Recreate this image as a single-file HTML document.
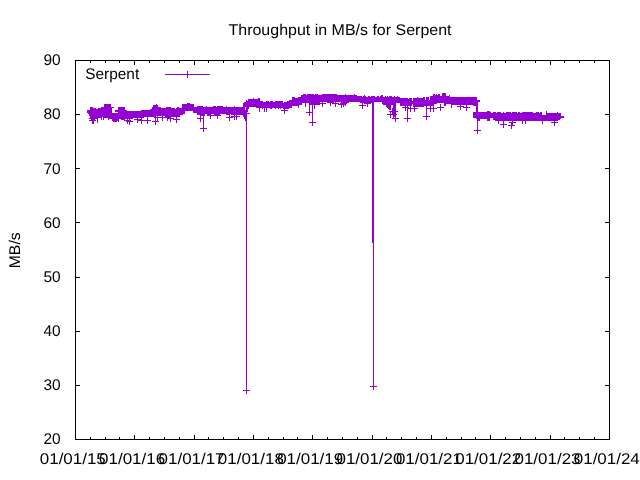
<!DOCTYPE html>
<html><head><meta charset="utf-8"><title>Throughput in MB/s for Serpent</title>
<style>
html,body{margin:0;padding:0;background:#fff;width:640px;height:480px;overflow:hidden}
svg{display:block;position:absolute;left:0;top:0;will-change:transform}
text{font-family:"Liberation Sans",sans-serif;font-size:15.5px;fill:#000;text-rendering:geometricPrecision}
</style></head><body>
<svg width="640" height="480" viewBox="0 0 640 480">
<rect width="640" height="480" fill="#fff"/>
<path shape-rendering="crispEdges" fill="#9400d3" d="M187 71h1v1h-1zM187 72h1v1h-1zM187 73h1v1h-1zM165 74h45v1h-45zM187 75h1v1h-1zM187 76h1v1h-1zM187 77h1v1h-1zM442 93h4v1h-4zM303 94h3v1h-3zM307 94h7v1h-7zM315 94h3v1h-3zM322 94h15v1h-15zM345 94h1v1h-1zM354 94h1v1h-1zM433 94h2v1h-2zM436 94h1v1h-1zM438 94h2v1h-2zM442 94h4v1h-4zM301 95h56v1h-56zM364 95h1v1h-1zM381 95h2v1h-2zM433 95h7v1h-7zM442 95h4v1h-4zM449 95h1v1h-1zM301 96h61v1h-61zM363 96h3v1h-3zM368 96h2v1h-2zM371 96h4v1h-4zM377 96h2v1h-2zM380 96h3v1h-3zM385 96h1v1h-1zM387 96h1v1h-1zM389 96h3v1h-3zM394 96h1v1h-1zM397 96h1v1h-1zM430 96h20v1h-20zM292 97h3v1h-3zM298 97h102v1h-102zM417 97h1v1h-1zM423 97h2v1h-2zM426 97h3v1h-3zM430 97h47v1h-47zM253 98h1v1h-1zM258 98h2v1h-2zM292 98h116v1h-116zM409 98h3v1h-3zM413 98h12v1h-12zM426 98h3v1h-3zM430 98h47v1h-47zM248 99h12v1h-12zM292 99h120v1h-120zM413 99h12v1h-12zM426 99h3v1h-3zM430 99h47v1h-47zM246 100h1v1h-1zM248 100h12v1h-12zM289 100h123v1h-123zM413 100h67v1h-67zM246 101h17v1h-17zM266 101h3v1h-3zM270 101h3v1h-3zM275 101h8v1h-8zM287 101h193v1h-193zM244 102h39v1h-39zM284 102h36v1h-36zM322 102h1v1h-1zM327 102h7v1h-7zM335 102h1v1h-1zM341 102h8v1h-8zM360 102h14v1h-14zM382 102h96v1h-96zM187 103h3v1h-3zM243 103h59v1h-59zM305 103h1v1h-1zM309 103h17v1h-17zM330 103h1v1h-1zM332 103h7v1h-7zM340 103h7v1h-7zM362 103h1v1h-1zM364 103h7v1h-7zM372 103h2v1h-2zM382 103h14v1h-14zM400 103h37v1h-37zM444 103h34v1h-34zM104 104h7v1h-7zM156 104h1v1h-1zM182 104h12v1h-12zM243 104h59v1h-59zM305 104h1v1h-1zM309 104h11v1h-11zM322 104h1v1h-1zM330 104h1v1h-1zM335 104h1v1h-1zM338 104h8v1h-8zM362 104h1v1h-1zM367 104h1v1h-1zM372 104h2v1h-2zM383 104h13v1h-13zM400 104h12v1h-12zM413 104h21v1h-21zM440 104h1v1h-1zM444 104h2v1h-2zM451 104h27v1h-27zM104 105h7v1h-7zM153 105h5v1h-5zM182 105h12v1h-12zM243 105h56v1h-56zM305 105h1v1h-1zM309 105h1v1h-1zM312 105h1v1h-1zM314 105h1v1h-1zM322 105h1v1h-1zM330 105h1v1h-1zM335 105h1v1h-1zM341 105h1v1h-1zM343 105h1v1h-1zM345 105h1v1h-1zM359 105h7v1h-7zM367 105h1v1h-1zM372 105h2v1h-2zM386 105h5v1h-5zM393 105h3v1h-3zM400 105h12v1h-12zM413 105h21v1h-21zM440 105h1v1h-1zM444 105h2v1h-2zM451 105h1v1h-1zM460 105h1v1h-1zM466 105h1v1h-1zM473 105h5v1h-5zM104 106h7v1h-7zM153 106h5v1h-5zM182 106h12v1h-12zM197 106h6v1h-6zM206 106h1v1h-1zM213 106h3v1h-3zM217 106h6v1h-6zM226 106h1v1h-1zM234 106h1v1h-1zM243 106h49v1h-49zM298 106h1v1h-1zM305 106h1v1h-1zM309 106h1v1h-1zM312 106h1v1h-1zM314 106h1v1h-1zM322 106h1v1h-1zM335 106h1v1h-1zM341 106h1v1h-1zM343 106h1v1h-1zM362 106h1v1h-1zM367 106h1v1h-1zM372 106h2v1h-2zM386 106h5v1h-5zM393 106h3v1h-3zM405 106h1v1h-1zM407 106h1v1h-1zM410 106h1v1h-1zM413 106h11v1h-11zM426 106h1v1h-1zM430 106h1v1h-1zM433 106h1v1h-1zM440 106h1v1h-1zM451 106h1v1h-1zM457 106h7v1h-7zM466 106h1v1h-1zM476 106h2v1h-2zM90 107h3v1h-3zM101 107h13v1h-13zM118 107h7v1h-7zM152 107h9v1h-9zM166 107h5v1h-5zM177 107h2v1h-2zM182 107h63v1h-63zM246 107h3v1h-3zM256 107h36v1h-36zM298 107h1v1h-1zM309 107h1v1h-1zM312 107h1v1h-1zM314 107h1v1h-1zM341 107h1v1h-1zM362 107h1v1h-1zM372 107h2v1h-2zM387 107h4v1h-4zM393 107h3v1h-3zM402 107h7v1h-7zM410 107h1v1h-1zM414 107h1v1h-1zM426 107h1v1h-1zM430 107h1v1h-1zM433 107h1v1h-1zM437 107h7v1h-7zM451 107h1v1h-1zM460 107h1v1h-1zM463 107h7v1h-7zM476 107h2v1h-2zM90 108h6v1h-6zM98 108h14v1h-14zM118 108h7v1h-7zM152 108h23v1h-23zM176 108h69v1h-69zM246 108h3v1h-3zM259 108h1v1h-1zM262 108h1v1h-1zM264 108h1v1h-1zM266 108h1v1h-1zM270 108h2v1h-2zM275 108h1v1h-1zM278 108h1v1h-1zM280 108h1v1h-1zM283 108h6v1h-6zM309 108h1v1h-1zM312 108h1v1h-1zM314 108h1v1h-1zM362 108h1v1h-1zM372 108h2v1h-2zM388 108h3v1h-3zM392 108h4v1h-4zM405 108h1v1h-1zM407 108h11v1h-11zM426 108h11v1h-11zM440 108h1v1h-1zM460 108h1v1h-1zM466 108h1v1h-1zM476 108h2v1h-2zM90 109h22v1h-22zM118 109h7v1h-7zM150 109h95v1h-95zM246 109h2v1h-2zM259 109h1v1h-1zM264 109h1v1h-1zM266 109h1v1h-1zM284 109h1v1h-1zM309 109h1v1h-1zM312 109h1v1h-1zM372 109h2v1h-2zM389 109h2v1h-2zM392 109h4v1h-4zM405 109h1v1h-1zM407 109h1v1h-1zM410 109h1v1h-1zM414 109h1v1h-1zM426 109h1v1h-1zM430 109h1v1h-1zM433 109h1v1h-1zM440 109h1v1h-1zM460 109h1v1h-1zM466 109h1v1h-1zM476 109h2v1h-2zM87 110h25v1h-25zM115 110h12v1h-12zM141 110h107v1h-107zM259 110h1v1h-1zM264 110h1v1h-1zM266 110h1v1h-1zM281 110h7v1h-7zM309 110h1v1h-1zM312 110h1v1h-1zM372 110h2v1h-2zM392 110h4v1h-4zM405 110h1v1h-1zM407 110h1v1h-1zM410 110h1v1h-1zM414 110h1v1h-1zM426 110h1v1h-1zM430 110h1v1h-1zM433 110h1v1h-1zM440 110h1v1h-1zM466 110h1v1h-1zM476 110h2v1h-2zM87 111h25v1h-25zM115 111h70v1h-70zM193 111h55v1h-55zM259 111h1v1h-1zM264 111h1v1h-1zM266 111h1v1h-1zM284 111h1v1h-1zM309 111h1v1h-1zM312 111h1v1h-1zM372 111h2v1h-2zM389 111h9v1h-9zM407 111h1v1h-1zM410 111h1v1h-1zM414 111h1v1h-1zM426 111h1v1h-1zM430 111h1v1h-1zM433 111h1v1h-1zM476 111h2v1h-2zM487 111h3v1h-3zM546 111h1v1h-1zM87 112h25v1h-25zM118 112h67v1h-67zM193 112h54v1h-54zM284 112h1v1h-1zM306 112h7v1h-7zM372 112h2v1h-2zM390 112h1v1h-1zM392 112h4v1h-4zM407 112h1v1h-1zM426 112h1v1h-1zM473 112h18v1h-18zM493 112h3v1h-3zM497 112h4v1h-4zM503 112h1v1h-1zM506 112h5v1h-5zM512 112h5v1h-5zM518 112h2v1h-2zM522 112h11v1h-11zM536 112h3v1h-3zM540 112h2v1h-2zM546 112h1v1h-1zM557 112h1v1h-1zM88 113h97v1h-97zM197 113h53v1h-53zM284 113h1v1h-1zM309 113h1v1h-1zM312 113h1v1h-1zM372 113h2v1h-2zM390 113h1v1h-1zM392 113h4v1h-4zM407 113h1v1h-1zM426 113h1v1h-1zM473 113h69v1h-69zM546 113h15v1h-15zM89 114h94v1h-94zM197 114h8v1h-8zM207 114h4v1h-4zM214 114h6v1h-6zM226 114h4v1h-4zM231 114h16v1h-16zM309 114h1v1h-1zM312 114h1v1h-1zM372 114h2v1h-2zM387 114h10v1h-10zM407 114h1v1h-1zM426 114h1v1h-1zM473 114h69v1h-69zM546 114h15v1h-15zM89 115h91v1h-91zM200 115h5v1h-5zM207 115h14v1h-14zM229 115h1v1h-1zM234 115h1v1h-1zM236 115h1v1h-1zM243 115h4v1h-4zM309 115h1v1h-1zM312 115h1v1h-1zM372 115h2v1h-2zM390 115h1v1h-1zM393 115h3v1h-3zM407 115h1v1h-1zM426 115h1v1h-1zM473 115h88v1h-88zM90 116h66v1h-66zM157 116h1v1h-1zM162 116h1v1h-1zM165 116h15v1h-15zM200 116h1v1h-1zM203 116h1v1h-1zM210 116h1v1h-1zM217 116h1v1h-1zM229 116h1v1h-1zM231 116h9v1h-9zM243 116h4v1h-4zM312 116h1v1h-1zM372 116h2v1h-2zM390 116h1v1h-1zM393 116h3v1h-3zM407 116h1v1h-1zM423 116h7v1h-7zM473 116h91v1h-91zM90 117h12v1h-12zM103 117h41v1h-41zM147 117h1v1h-1zM154 117h17v1h-17zM176 117h1v1h-1zM200 117h1v1h-1zM203 117h1v1h-1zM210 117h1v1h-1zM217 117h1v1h-1zM226 117h7v1h-7zM234 117h1v1h-1zM236 117h1v1h-1zM244 117h3v1h-3zM312 117h1v1h-1zM372 117h2v1h-2zM390 117h1v1h-1zM393 117h1v1h-1zM395 117h1v1h-1zM407 117h1v1h-1zM426 117h1v1h-1zM473 117h91v1h-91zM89 118h9v1h-9zM101 118h1v1h-1zM103 118h1v1h-1zM108 118h25v1h-25zM137 118h1v1h-1zM141 118h1v1h-1zM147 118h1v1h-1zM155 118h1v1h-1zM157 118h1v1h-1zM162 118h1v1h-1zM167 118h7v1h-7zM176 118h1v1h-1zM197 118h7v1h-7zM210 118h1v1h-1zM217 118h1v1h-1zM229 118h1v1h-1zM234 118h1v1h-1zM236 118h1v1h-1zM244 118h3v1h-3zM312 118h1v1h-1zM372 118h2v1h-2zM392 118h7v1h-7zM404 118h7v1h-7zM426 118h1v1h-1zM476 118h14v1h-14zM493 118h68v1h-68zM91 119h4v1h-4zM97 119h1v1h-1zM101 119h1v1h-1zM103 119h1v1h-1zM108 119h1v1h-1zM112 119h7v1h-7zM121 119h4v1h-4zM127 119h1v1h-1zM129 119h1v1h-1zM134 119h8v1h-8zM147 119h1v1h-1zM155 119h1v1h-1zM157 119h1v1h-1zM162 119h1v1h-1zM167 119h1v1h-1zM170 119h1v1h-1zM173 119h7v1h-7zM200 119h1v1h-1zM203 119h1v1h-1zM229 119h1v1h-1zM234 119h1v1h-1zM236 119h1v1h-1zM245 119h2v1h-2zM312 119h1v1h-1zM372 119h2v1h-2zM395 119h1v1h-1zM407 119h1v1h-1zM426 119h1v1h-1zM477 119h3v1h-3zM487 119h3v1h-3zM493 119h67v1h-67zM89 120h7v1h-7zM97 120h1v1h-1zM112 120h7v1h-7zM124 120h7v1h-7zM137 120h14v1h-14zM155 120h1v1h-1zM157 120h1v1h-1zM162 120h1v1h-1zM167 120h1v1h-1zM170 120h1v1h-1zM176 120h1v1h-1zM200 120h1v1h-1zM203 120h1v1h-1zM229 120h1v1h-1zM245 120h2v1h-2zM312 120h1v1h-1zM372 120h2v1h-2zM395 120h1v1h-1zM407 120h1v1h-1zM477 120h3v1h-3zM487 120h3v1h-3zM495 120h63v1h-63zM92 121h2v1h-2zM97 121h1v1h-1zM113 121h4v1h-4zM118 121h1v1h-1zM126 121h7v1h-7zM137 121h1v1h-1zM141 121h1v1h-1zM147 121h1v1h-1zM152 121h7v1h-7zM170 121h1v1h-1zM176 121h1v1h-1zM200 121h1v1h-1zM203 121h1v1h-1zM246 121h1v1h-1zM312 121h1v1h-1zM372 121h2v1h-2zM395 121h1v1h-1zM407 121h1v1h-1zM477 121h1v1h-1zM498 121h1v1h-1zM503 121h1v1h-1zM512 121h1v1h-1zM522 121h1v1h-1zM525 121h1v1h-1zM542 121h1v1h-1zM554 121h1v1h-1zM92 122h2v1h-2zM97 122h1v1h-1zM127 122h1v1h-1zM129 122h1v1h-1zM137 122h1v1h-1zM141 122h1v1h-1zM147 122h1v1h-1zM155 122h1v1h-1zM176 122h1v1h-1zM203 122h1v1h-1zM246 122h1v1h-1zM309 122h7v1h-7zM372 122h2v1h-2zM477 122h1v1h-1zM498 122h1v1h-1zM503 122h1v1h-1zM509 122h7v1h-7zM522 122h1v1h-1zM525 122h1v1h-1zM542 122h1v1h-1zM551 122h7v1h-7zM92 123h2v1h-2zM127 123h1v1h-1zM129 123h1v1h-1zM141 123h1v1h-1zM147 123h1v1h-1zM155 123h1v1h-1zM203 123h1v1h-1zM246 123h1v1h-1zM312 123h1v1h-1zM372 123h2v1h-2zM477 123h1v1h-1zM498 123h1v1h-1zM503 123h1v1h-1zM511 123h2v1h-2zM522 123h1v1h-1zM525 123h1v1h-1zM542 123h1v1h-1zM554 123h1v1h-1zM129 124h1v1h-1zM155 124h1v1h-1zM203 124h1v1h-1zM246 124h1v1h-1zM312 124h1v1h-1zM372 124h2v1h-2zM477 124h1v1h-1zM500 124h7v1h-7zM511 124h2v1h-2zM554 124h1v1h-1zM203 125h1v1h-1zM246 125h1v1h-1zM312 125h1v1h-1zM372 125h2v1h-2zM477 125h1v1h-1zM503 125h1v1h-1zM508 125h7v1h-7zM554 125h1v1h-1zM203 126h1v1h-1zM246 126h1v1h-1zM372 126h2v1h-2zM477 126h1v1h-1zM503 126h1v1h-1zM511 126h1v1h-1zM203 127h1v1h-1zM246 127h1v1h-1zM372 127h2v1h-2zM477 127h1v1h-1zM503 127h1v1h-1zM511 127h1v1h-1zM200 128h7v1h-7zM246 128h1v1h-1zM372 128h2v1h-2zM477 128h1v1h-1zM511 128h1v1h-1zM203 129h1v1h-1zM246 129h1v1h-1zM372 129h2v1h-2zM477 129h1v1h-1zM203 130h1v1h-1zM246 130h1v1h-1zM372 130h2v1h-2zM474 130h7v1h-7zM203 131h1v1h-1zM246 131h1v1h-1zM372 131h2v1h-2zM477 131h1v1h-1zM246 132h1v1h-1zM372 132h2v1h-2zM477 132h1v1h-1zM246 133h1v1h-1zM372 133h2v1h-2zM477 133h1v1h-1zM246 134h1v1h-1zM372 134h2v1h-2zM246 135h1v1h-1zM372 135h2v1h-2zM246 136h1v1h-1zM372 136h2v1h-2zM246 137h1v1h-1zM372 137h2v1h-2zM246 138h1v1h-1zM372 138h2v1h-2zM246 139h1v1h-1zM372 139h2v1h-2zM246 140h1v1h-1zM372 140h2v1h-2zM246 141h1v1h-1zM372 141h2v1h-2zM246 142h1v1h-1zM372 142h2v1h-2zM246 143h1v1h-1zM372 143h2v1h-2zM246 144h1v1h-1zM372 144h2v1h-2zM246 145h1v1h-1zM372 145h2v1h-2zM246 146h1v1h-1zM372 146h2v1h-2zM246 147h1v1h-1zM372 147h2v1h-2zM246 148h1v1h-1zM372 148h2v1h-2zM246 149h1v1h-1zM372 149h2v1h-2zM246 150h1v1h-1zM372 150h2v1h-2zM246 151h1v1h-1zM372 151h2v1h-2zM246 152h1v1h-1zM372 152h2v1h-2zM246 153h1v1h-1zM372 153h2v1h-2zM246 154h1v1h-1zM372 154h2v1h-2zM246 155h1v1h-1zM372 155h2v1h-2zM246 156h1v1h-1zM372 156h2v1h-2zM246 157h1v1h-1zM372 157h2v1h-2zM246 158h1v1h-1zM372 158h2v1h-2zM246 159h1v1h-1zM372 159h2v1h-2zM246 160h1v1h-1zM372 160h2v1h-2zM246 161h1v1h-1zM372 161h2v1h-2zM246 162h1v1h-1zM372 162h2v1h-2zM246 163h1v1h-1zM372 163h2v1h-2zM246 164h1v1h-1zM372 164h2v1h-2zM246 165h1v1h-1zM372 165h2v1h-2zM246 166h1v1h-1zM372 166h2v1h-2zM246 167h1v1h-1zM372 167h2v1h-2zM246 168h1v1h-1zM372 168h2v1h-2zM246 169h1v1h-1zM372 169h2v1h-2zM246 170h1v1h-1zM372 170h2v1h-2zM246 171h1v1h-1zM372 171h2v1h-2zM246 172h1v1h-1zM372 172h2v1h-2zM246 173h1v1h-1zM372 173h2v1h-2zM246 174h1v1h-1zM372 174h2v1h-2zM246 175h1v1h-1zM372 175h2v1h-2zM246 176h1v1h-1zM372 176h2v1h-2zM246 177h1v1h-1zM372 177h2v1h-2zM246 178h1v1h-1zM372 178h2v1h-2zM246 179h1v1h-1zM372 179h2v1h-2zM246 180h1v1h-1zM372 180h2v1h-2zM246 181h1v1h-1zM372 181h2v1h-2zM246 182h1v1h-1zM372 182h2v1h-2zM246 183h1v1h-1zM372 183h2v1h-2zM246 184h1v1h-1zM372 184h2v1h-2zM246 185h1v1h-1zM372 185h2v1h-2zM246 186h1v1h-1zM372 186h2v1h-2zM246 187h1v1h-1zM372 187h2v1h-2zM246 188h1v1h-1zM372 188h2v1h-2zM246 189h1v1h-1zM372 189h2v1h-2zM246 190h1v1h-1zM372 190h2v1h-2zM246 191h1v1h-1zM372 191h2v1h-2zM246 192h1v1h-1zM372 192h2v1h-2zM246 193h1v1h-1zM372 193h2v1h-2zM246 194h1v1h-1zM372 194h2v1h-2zM246 195h1v1h-1zM372 195h2v1h-2zM246 196h1v1h-1zM372 196h2v1h-2zM246 197h1v1h-1zM372 197h2v1h-2zM246 198h1v1h-1zM372 198h2v1h-2zM246 199h1v1h-1zM372 199h2v1h-2zM246 200h1v1h-1zM372 200h2v1h-2zM246 201h1v1h-1zM372 201h2v1h-2zM246 202h1v1h-1zM372 202h2v1h-2zM246 203h1v1h-1zM372 203h2v1h-2zM246 204h1v1h-1zM372 204h2v1h-2zM246 205h1v1h-1zM372 205h2v1h-2zM246 206h1v1h-1zM372 206h2v1h-2zM246 207h1v1h-1zM372 207h2v1h-2zM246 208h1v1h-1zM372 208h2v1h-2zM246 209h1v1h-1zM372 209h2v1h-2zM246 210h1v1h-1zM372 210h2v1h-2zM246 211h1v1h-1zM372 211h2v1h-2zM246 212h1v1h-1zM372 212h2v1h-2zM246 213h1v1h-1zM372 213h2v1h-2zM246 214h1v1h-1zM372 214h2v1h-2zM246 215h1v1h-1zM372 215h2v1h-2zM246 216h1v1h-1zM372 216h2v1h-2zM246 217h1v1h-1zM372 217h2v1h-2zM246 218h1v1h-1zM372 218h2v1h-2zM246 219h1v1h-1zM372 219h2v1h-2zM246 220h1v1h-1zM372 220h2v1h-2zM246 221h1v1h-1zM372 221h2v1h-2zM246 222h1v1h-1zM372 222h2v1h-2zM246 223h1v1h-1zM372 223h2v1h-2zM246 224h1v1h-1zM372 224h2v1h-2zM246 225h1v1h-1zM372 225h2v1h-2zM246 226h1v1h-1zM372 226h2v1h-2zM246 227h1v1h-1zM372 227h2v1h-2zM246 228h1v1h-1zM372 228h2v1h-2zM246 229h1v1h-1zM372 229h2v1h-2zM246 230h1v1h-1zM372 230h2v1h-2zM246 231h1v1h-1zM372 231h2v1h-2zM246 232h1v1h-1zM372 232h2v1h-2zM246 233h1v1h-1zM372 233h2v1h-2zM246 234h1v1h-1zM372 234h2v1h-2zM246 235h1v1h-1zM372 235h2v1h-2zM246 236h1v1h-1zM372 236h2v1h-2zM246 237h1v1h-1zM372 237h2v1h-2zM246 238h1v1h-1zM372 238h2v1h-2zM246 239h1v1h-1zM372 239h2v1h-2zM246 240h1v1h-1zM372 240h2v1h-2zM246 241h1v1h-1zM372 241h2v1h-2zM246 242h1v1h-1zM372 242h2v1h-2zM246 243h1v1h-1zM373 243h1v1h-1zM246 244h1v1h-1zM373 244h1v1h-1zM246 245h1v1h-1zM373 245h1v1h-1zM246 246h1v1h-1zM373 246h1v1h-1zM246 247h1v1h-1zM373 247h1v1h-1zM246 248h1v1h-1zM373 248h1v1h-1zM246 249h1v1h-1zM373 249h1v1h-1zM246 250h1v1h-1zM373 250h1v1h-1zM246 251h1v1h-1zM373 251h1v1h-1zM246 252h1v1h-1zM373 252h1v1h-1zM246 253h1v1h-1zM373 253h1v1h-1zM246 254h1v1h-1zM373 254h1v1h-1zM246 255h1v1h-1zM373 255h1v1h-1zM246 256h1v1h-1zM373 256h1v1h-1zM246 257h1v1h-1zM373 257h1v1h-1zM246 258h1v1h-1zM373 258h1v1h-1zM246 259h1v1h-1zM373 259h1v1h-1zM246 260h1v1h-1zM373 260h1v1h-1zM246 261h1v1h-1zM373 261h1v1h-1zM246 262h1v1h-1zM373 262h1v1h-1zM246 263h1v1h-1zM373 263h1v1h-1zM246 264h1v1h-1zM373 264h1v1h-1zM246 265h1v1h-1zM373 265h1v1h-1zM246 266h1v1h-1zM373 266h1v1h-1zM246 267h1v1h-1zM373 267h1v1h-1zM246 268h1v1h-1zM373 268h1v1h-1zM246 269h1v1h-1zM373 269h1v1h-1zM246 270h1v1h-1zM373 270h1v1h-1zM246 271h1v1h-1zM373 271h1v1h-1zM246 272h1v1h-1zM373 272h1v1h-1zM246 273h1v1h-1zM373 273h1v1h-1zM246 274h1v1h-1zM373 274h1v1h-1zM246 275h1v1h-1zM373 275h1v1h-1zM246 276h1v1h-1zM373 276h1v1h-1zM246 277h1v1h-1zM373 277h1v1h-1zM246 278h1v1h-1zM373 278h1v1h-1zM246 279h1v1h-1zM373 279h1v1h-1zM246 280h1v1h-1zM373 280h1v1h-1zM246 281h1v1h-1zM373 281h1v1h-1zM246 282h1v1h-1zM373 282h1v1h-1zM246 283h1v1h-1zM373 283h1v1h-1zM246 284h1v1h-1zM373 284h1v1h-1zM246 285h1v1h-1zM373 285h1v1h-1zM246 286h1v1h-1zM373 286h1v1h-1zM246 287h1v1h-1zM373 287h1v1h-1zM246 288h1v1h-1zM373 288h1v1h-1zM246 289h1v1h-1zM373 289h1v1h-1zM246 290h1v1h-1zM373 290h1v1h-1zM246 291h1v1h-1zM373 291h1v1h-1zM246 292h1v1h-1zM373 292h1v1h-1zM246 293h1v1h-1zM373 293h1v1h-1zM246 294h1v1h-1zM373 294h1v1h-1zM246 295h1v1h-1zM373 295h1v1h-1zM246 296h1v1h-1zM373 296h1v1h-1zM246 297h1v1h-1zM373 297h1v1h-1zM246 298h1v1h-1zM373 298h1v1h-1zM246 299h1v1h-1zM373 299h1v1h-1zM246 300h1v1h-1zM373 300h1v1h-1zM246 301h1v1h-1zM373 301h1v1h-1zM246 302h1v1h-1zM373 302h1v1h-1zM246 303h1v1h-1zM373 303h1v1h-1zM246 304h1v1h-1zM373 304h1v1h-1zM246 305h1v1h-1zM373 305h1v1h-1zM246 306h1v1h-1zM373 306h1v1h-1zM246 307h1v1h-1zM373 307h1v1h-1zM246 308h1v1h-1zM373 308h1v1h-1zM246 309h1v1h-1zM373 309h1v1h-1zM246 310h1v1h-1zM373 310h1v1h-1zM246 311h1v1h-1zM373 311h1v1h-1zM246 312h1v1h-1zM373 312h1v1h-1zM246 313h1v1h-1zM373 313h1v1h-1zM246 314h1v1h-1zM373 314h1v1h-1zM246 315h1v1h-1zM373 315h1v1h-1zM246 316h1v1h-1zM373 316h1v1h-1zM246 317h1v1h-1zM373 317h1v1h-1zM246 318h1v1h-1zM373 318h1v1h-1zM246 319h1v1h-1zM373 319h1v1h-1zM246 320h1v1h-1zM373 320h1v1h-1zM246 321h1v1h-1zM373 321h1v1h-1zM246 322h1v1h-1zM373 322h1v1h-1zM246 323h1v1h-1zM373 323h1v1h-1zM246 324h1v1h-1zM373 324h1v1h-1zM246 325h1v1h-1zM373 325h1v1h-1zM246 326h1v1h-1zM373 326h1v1h-1zM246 327h1v1h-1zM373 327h1v1h-1zM246 328h1v1h-1zM373 328h1v1h-1zM246 329h1v1h-1zM373 329h1v1h-1zM246 330h1v1h-1zM373 330h1v1h-1zM246 331h1v1h-1zM373 331h1v1h-1zM246 332h1v1h-1zM373 332h1v1h-1zM246 333h1v1h-1zM373 333h1v1h-1zM246 334h1v1h-1zM373 334h1v1h-1zM246 335h1v1h-1zM373 335h1v1h-1zM246 336h1v1h-1zM373 336h1v1h-1zM246 337h1v1h-1zM373 337h1v1h-1zM246 338h1v1h-1zM373 338h1v1h-1zM246 339h1v1h-1zM373 339h1v1h-1zM246 340h1v1h-1zM373 340h1v1h-1zM246 341h1v1h-1zM373 341h1v1h-1zM246 342h1v1h-1zM373 342h1v1h-1zM246 343h1v1h-1zM373 343h1v1h-1zM246 344h1v1h-1zM373 344h1v1h-1zM246 345h1v1h-1zM373 345h1v1h-1zM246 346h1v1h-1zM373 346h1v1h-1zM246 347h1v1h-1zM373 347h1v1h-1zM246 348h1v1h-1zM373 348h1v1h-1zM246 349h1v1h-1zM373 349h1v1h-1zM246 350h1v1h-1zM373 350h1v1h-1zM246 351h1v1h-1zM373 351h1v1h-1zM246 352h1v1h-1zM373 352h1v1h-1zM246 353h1v1h-1zM373 353h1v1h-1zM246 354h1v1h-1zM373 354h1v1h-1zM246 355h1v1h-1zM373 355h1v1h-1zM246 356h1v1h-1zM373 356h1v1h-1zM246 357h1v1h-1zM373 357h1v1h-1zM246 358h1v1h-1zM373 358h1v1h-1zM246 359h1v1h-1zM373 359h1v1h-1zM246 360h1v1h-1zM373 360h1v1h-1zM246 361h1v1h-1zM373 361h1v1h-1zM246 362h1v1h-1zM373 362h1v1h-1zM246 363h1v1h-1zM373 363h1v1h-1zM246 364h1v1h-1zM373 364h1v1h-1zM246 365h1v1h-1zM373 365h1v1h-1zM246 366h1v1h-1zM373 366h1v1h-1zM246 367h1v1h-1zM373 367h1v1h-1zM246 368h1v1h-1zM373 368h1v1h-1zM246 369h1v1h-1zM373 369h1v1h-1zM246 370h1v1h-1zM373 370h1v1h-1zM246 371h1v1h-1zM373 371h1v1h-1zM246 372h1v1h-1zM373 372h1v1h-1zM246 373h1v1h-1zM373 373h1v1h-1zM246 374h1v1h-1zM373 374h1v1h-1zM246 375h1v1h-1zM373 375h1v1h-1zM246 376h1v1h-1zM373 376h1v1h-1zM246 377h1v1h-1zM373 377h1v1h-1zM246 378h1v1h-1zM373 378h1v1h-1zM246 379h1v1h-1zM373 379h1v1h-1zM246 380h1v1h-1zM373 380h1v1h-1zM246 381h1v1h-1zM373 381h1v1h-1zM246 382h1v1h-1zM373 382h1v1h-1zM246 383h1v1h-1zM373 383h1v1h-1zM246 384h1v1h-1zM373 384h1v1h-1zM246 385h1v1h-1zM373 385h1v1h-1zM246 386h1v1h-1zM370 386h7v1h-7zM246 387h1v1h-1zM373 387h1v1h-1zM246 388h1v1h-1zM373 388h1v1h-1zM246 389h1v1h-1zM373 389h1v1h-1zM243 390h7v1h-7zM246 391h1v1h-1zM246 392h1v1h-1zM246 393h1v1h-1z"/>
<path shape-rendering="crispEdges" fill="#000" d="M75 60h535v1h-535zM75 439h535v1h-535zM75 60h1v380h-1zM609 60h1v380h-1zM76 439h4v1h-4zM605 439h4v1h-4zM76 385h4v1h-4zM605 385h4v1h-4zM76 331h4v1h-4zM605 331h4v1h-4zM76 277h4v1h-4zM605 277h4v1h-4zM76 222h4v1h-4zM605 222h4v1h-4zM76 168h4v1h-4zM605 168h4v1h-4zM76 114h4v1h-4zM605 114h4v1h-4zM76 60h4v1h-4zM605 60h4v1h-4zM75 435h1v4h-1zM75 61h1v4h-1zM90 437h1v2h-1zM90 61h1v2h-1zM105 437h1v2h-1zM105 61h1v2h-1zM119 437h1v2h-1zM119 61h1v2h-1zM134 435h1v4h-1zM134 61h1v4h-1zM149 437h1v2h-1zM149 61h1v2h-1zM164 437h1v2h-1zM164 61h1v2h-1zM179 437h1v2h-1zM179 61h1v2h-1zM194 435h1v4h-1zM194 61h1v4h-1zM208 437h1v2h-1zM208 61h1v2h-1zM223 437h1v2h-1zM223 61h1v2h-1zM238 437h1v2h-1zM238 61h1v2h-1zM253 435h1v4h-1zM253 61h1v4h-1zM268 437h1v2h-1zM268 61h1v2h-1zM283 437h1v2h-1zM283 61h1v2h-1zM297 437h1v2h-1zM297 61h1v2h-1zM312 435h1v4h-1zM312 61h1v4h-1zM327 437h1v2h-1zM327 61h1v2h-1zM342 437h1v2h-1zM342 61h1v2h-1zM357 437h1v2h-1zM357 61h1v2h-1zM372 435h1v4h-1zM372 61h1v4h-1zM386 437h1v2h-1zM386 61h1v2h-1zM401 437h1v2h-1zM401 61h1v2h-1zM416 437h1v2h-1zM416 61h1v2h-1zM431 435h1v4h-1zM431 61h1v4h-1zM446 437h1v2h-1zM446 61h1v2h-1zM461 437h1v2h-1zM461 61h1v2h-1zM475 437h1v2h-1zM475 61h1v2h-1zM490 435h1v4h-1zM490 61h1v4h-1zM505 437h1v2h-1zM505 61h1v2h-1zM520 437h1v2h-1zM520 61h1v2h-1zM535 437h1v2h-1zM535 61h1v2h-1zM550 435h1v4h-1zM550 61h1v4h-1zM564 437h1v2h-1zM564 61h1v2h-1zM579 437h1v2h-1zM579 61h1v2h-1zM594 437h1v2h-1zM594 61h1v2h-1zM609 435h1v4h-1zM609 61h1v4h-1z"/>
<g>
<text transform="translate(228.5,35) scale(1,1)" text-anchor="start" textLength="223" lengthAdjust="spacingAndGlyphs">Throughput in MB/s for Serpent</text>
<text transform="translate(43.4,444.3) scale(1,1)" text-anchor="start" textLength="17.2" lengthAdjust="spacingAndGlyphs">20</text>
<text transform="translate(43.4,390.16) scale(1,1)" text-anchor="start" textLength="17.2" lengthAdjust="spacingAndGlyphs">30</text>
<text transform="translate(43.4,336.01) scale(1,1)" text-anchor="start" textLength="17.2" lengthAdjust="spacingAndGlyphs">40</text>
<text transform="translate(43.4,281.87) scale(1,1)" text-anchor="start" textLength="17.2" lengthAdjust="spacingAndGlyphs">50</text>
<text transform="translate(43.4,227.73) scale(1,1)" text-anchor="start" textLength="17.2" lengthAdjust="spacingAndGlyphs">60</text>
<text transform="translate(43.4,173.59) scale(1,1)" text-anchor="start" textLength="17.2" lengthAdjust="spacingAndGlyphs">70</text>
<text transform="translate(43.4,119.44) scale(1,1)" text-anchor="start" textLength="17.2" lengthAdjust="spacingAndGlyphs">80</text>
<text transform="translate(43.4,65.3) scale(1,1)" text-anchor="start" textLength="17.2" lengthAdjust="spacingAndGlyphs">90</text>
<text transform="translate(39.8,464) scale(1,1)" text-anchor="start" textLength="66" lengthAdjust="spacingAndGlyphs">01/01/15</text>
<text transform="translate(99.1,464) scale(1,1)" text-anchor="start" textLength="66" lengthAdjust="spacingAndGlyphs">01/01/16</text>
<text transform="translate(158.56,464) scale(1,1)" text-anchor="start" textLength="66" lengthAdjust="spacingAndGlyphs">01/01/17</text>
<text transform="translate(217.85,464) scale(1,1)" text-anchor="start" textLength="66" lengthAdjust="spacingAndGlyphs">01/01/18</text>
<text transform="translate(277.15,464) scale(1,1)" text-anchor="start" textLength="66" lengthAdjust="spacingAndGlyphs">01/01/19</text>
<text transform="translate(336.45,464) scale(1,1)" text-anchor="start" textLength="66" lengthAdjust="spacingAndGlyphs">01/01/20</text>
<text transform="translate(395.91,464) scale(1,1)" text-anchor="start" textLength="66" lengthAdjust="spacingAndGlyphs">01/01/21</text>
<text transform="translate(455.21,464) scale(1,1)" text-anchor="start" textLength="66" lengthAdjust="spacingAndGlyphs">01/01/22</text>
<text transform="translate(514.5,464) scale(1,1)" text-anchor="start" textLength="66" lengthAdjust="spacingAndGlyphs">01/01/23</text>
<text transform="translate(573.8,464) scale(1,1)" text-anchor="start" textLength="66" lengthAdjust="spacingAndGlyphs">01/01/24</text>
<text transform="translate(85.2,79) scale(1,1)" text-anchor="start" textLength="54" lengthAdjust="spacingAndGlyphs">Serpent</text>
<text transform="translate(20,268.3) rotate(-90) scale(1,1)" text-anchor="start" textLength="36" lengthAdjust="spacingAndGlyphs">MB/s</text>
</g>
</svg>
</body></html>
